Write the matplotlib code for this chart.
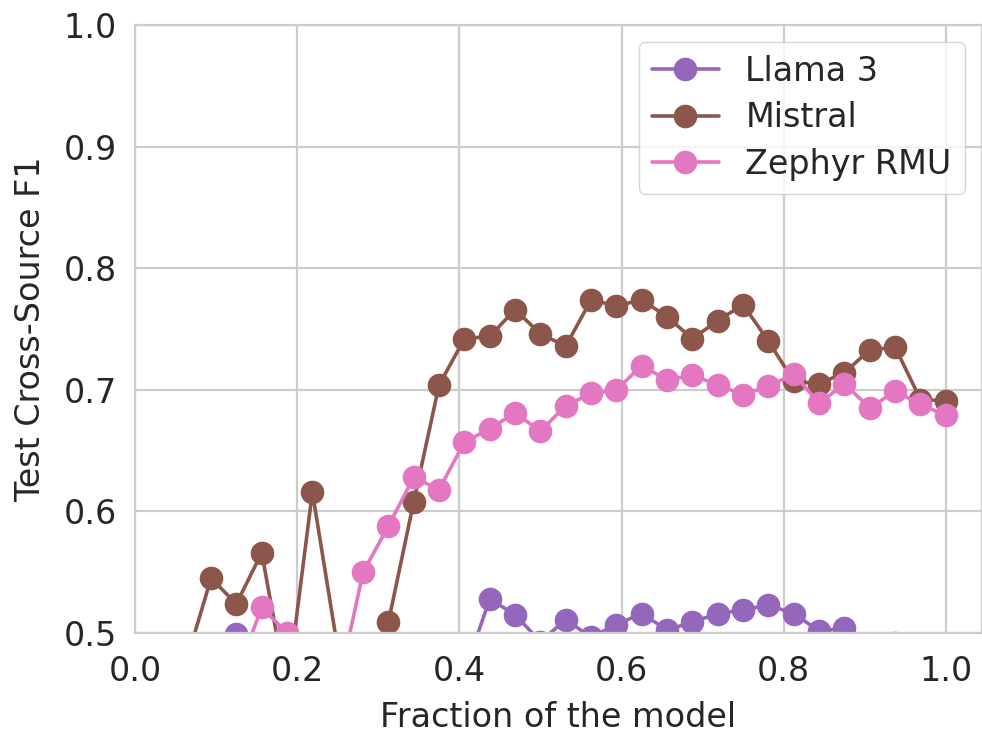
import numpy as np
import matplotlib
matplotlib.use("Agg")
import matplotlib.pyplot as plt
import seaborn as sns

# layer index -> fraction of the model (32 layers per model)
layers = np.arange(1, 33)
n_layers = 32

llama3 = [0.44, 0.45, 0.46, 0.499, 0.45, 0.44, 0.43, 0.44, 0.45, 0.44, 0.45,
          0.46, 0.4675, 0.528, 0.515, 0.493, 0.511, 0.4965, 0.507, 0.516,
          0.5025, 0.509, 0.516, 0.519, 0.523, 0.516, 0.5016, 0.504, 0.48,
          0.492, 0.475, 0.48]
mistral = [0.44, 0.475, 0.545, 0.524, 0.566, 0.452, 0.616, 0.487, 0.46,
           0.509, 0.608, 0.704, 0.742, 0.744, 0.766, 0.746, 0.736, 0.774,
           0.769, 0.774, 0.760, 0.742, 0.757, 0.770, 0.740, 0.707, 0.705,
           0.714, 0.733, 0.735, 0.692, 0.691]
zephyr_rmu = [0.45, 0.44, 0.455, 0.465, 0.521, 0.500, 0.46, 0.454, 0.550,
              0.588, 0.628, 0.618, 0.657, 0.668, 0.681, 0.666, 0.687, 0.697,
              0.700, 0.720, 0.708, 0.712, 0.704, 0.696, 0.703, 0.713, 0.689,
              0.705, 0.685, 0.699, 0.688, 0.679]

series = [("Llama 3", llama3, "#9467bd"),
          ("Mistral", mistral, "#8c564b"),
          ("Zephyr RMU", zephyr_rmu, "#e377c2")]

sns.set_theme(style="whitegrid")
plt.rcParams["font.family"] = ["DejaVu Sans"]
plt.rcParams["text.color"] = "#262626"
plt.rcParams["axes.labelcolor"] = "#262626"
plt.rcParams["xtick.color"] = "#262626"
plt.rcParams["ytick.color"] = "#262626"

fig = plt.figure(figsize=(9.82, 7.32), dpi=100)
ax = fig.add_axes([0.1375, 0.1352, 0.862, 0.8306])

frac = layers / n_layers
for name, vals, color in series:
    ax.plot(frac, vals, marker="o", color=color, label=name,
            linewidth=2.6, markersize=16)

ax.set_xlim(0, 1.044)
ax.set_ylim(0.5, 1.0)
ax.set_xticks([0.0, 0.2, 0.4, 0.6, 0.8, 1.0])
ax.set_yticks([0.5, 0.6, 0.7, 0.8, 0.9, 1.0])
ax.tick_params(labelsize=24, length=0)
ax.tick_params(axis="x", pad=16)
ax.tick_params(axis="y", pad=13)
ax.grid(True, color="#cccccc", linewidth=1.6)
for s in ax.spines.values():
    s.set_color("#cccccc")
    s.set_linewidth(1.6)

ax.set_xlabel("Fraction of the model", fontsize=24, labelpad=9)
ax.set_ylabel("Test Cross-Source F1", fontsize=24, labelpad=12)

ax.legend(loc="upper right", fontsize=24, frameon=True, framealpha=0.8,
          edgecolor="#cccccc", borderpad=0.4, labelspacing=0.4)

fig.savefig("out.png", dpi=100)
